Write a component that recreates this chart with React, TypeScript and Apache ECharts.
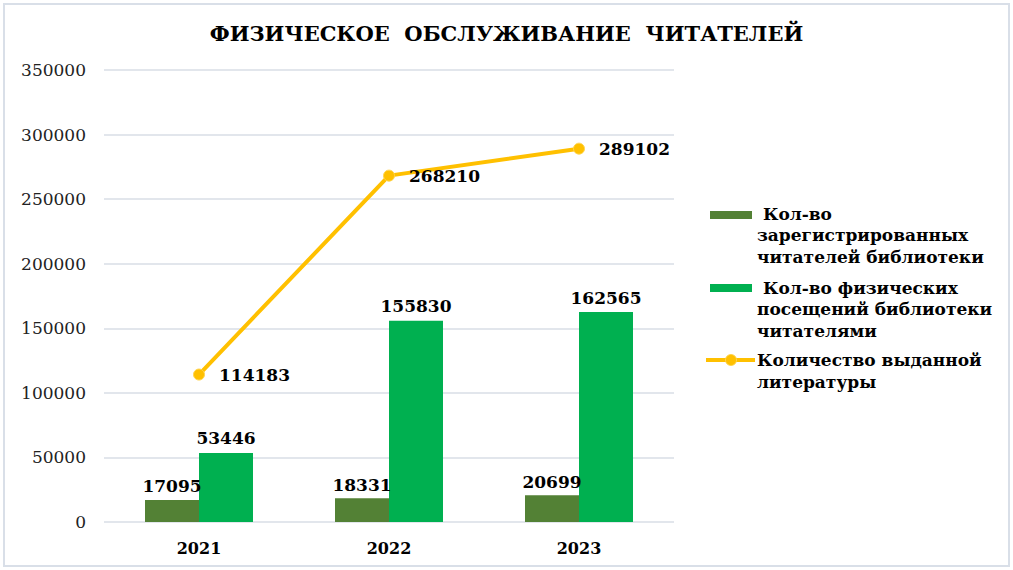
import React, { useEffect, useRef } from "react";
import * as echarts from "echarts";

const title = "ФИЗИЧЕСКОЕ  ОБСЛУЖИВАНИЕ  ЧИТАТЕЛЕЙ";
const years = ["2021", "2022", "2023"];
const registered = [17095, 18331, 20699];
const visits = [53446, 155830, 162565];
const issued = [114183, 268210, 289102];
const legendNames = [
  " Кол-во\nзарегистрированных\nчитателей библиотеки",
  " Кол-во физических\nпосещений библиотеки\nчитателями",
  "Количество выданной\nлитературы",
];
const seriesNames = [
  "Кол-во зарегистрированных читателей библиотеки",
  "Кол-во физических посещений библиотеки читателями",
  "Количество выданной литературы",
];

const FONT = "'DejaVu Serif', 'Liberation Serif', serif";
const C1 = "#538135";
const C2 = "#00B050";
const C3 = "#FFC000";

export default function App() {
  const ref = useRef<HTMLDivElement>(null);
  useEffect(() => {
    if (!ref.current) return;
    const chart = echarts.init(ref.current, null, { renderer: "svg" });
    const labelStyle = {
      show: true,
      fontFamily: FONT,
      fontWeight: "bold" as const,
      fontSize: 17,
      color: "#000",
    };
    chart.setOption({
      animation: false,
      backgroundColor: "#fff",
      title: {
        text: title,
        left: "center",
        top: 18,
        textStyle: { fontFamily: FONT, fontWeight: "bold", fontSize: 21, color: "#000" },
      },
      grid: { left: 104, right: 339, top: 70, bottom: 48, containLabel: false },
      xAxis: {
        type: "category",
        data: years,
        axisLine: { show: false },
        axisTick: { show: false },
        axisLabel: { fontFamily: FONT, fontWeight: "bold", fontSize: 16, color: "#000", margin: 18 },
      },
      yAxis: {
        type: "value",
        min: 0,
        max: 350000,
        interval: 50000,
        axisLine: { show: false },
        axisTick: { show: false },
        splitLine: { lineStyle: { color: "#d9dee6", width: 1.5 } },
        axisLabel: {
          fontFamily: FONT,
          fontSize: 17,
          color: "#222",
          margin: 18,
          formatter: (v: number) => String(v),
        },
      },
      series: [
        {
          name: seriesNames[0],
          type: "bar",
          data: registered,
          barWidth: 54,
          barGap: "0%",
          itemStyle: { color: C1 },
          label: { ...labelStyle, position: "top", distance: 5 },
        },
        {
          name: seriesNames[1],
          type: "bar",
          data: visits,
          barWidth: 54,
          barGap: "0%",
          itemStyle: { color: C2 },
          label: { ...labelStyle, position: "top", distance: 6 },
        },
        {
          name: seriesNames[2],
          type: "line",
          data: issued,
          symbol: "circle",
          symbolSize: 11,
          itemStyle: { color: C3, borderColor: "#ffd54d", borderWidth: 1 },
          lineStyle: { color: C3, width: 4 },
          label: { ...labelStyle, position: "right", distance: 14 },
          z: 5,
        },
      ],
      graphic: [
        {
          type: "rect",
          shape: { x: 4, y: 4, width: 1005, height: 562 },
          style: { fill: "none", stroke: "#d9dfe8", lineWidth: 2 },
          silent: true,
        },
        { type: "rect", shape: { x: 710, y: 211, width: 42, height: 8 }, style: { fill: C1 } },
        {
          type: "text",
          x: 757,
          y: 203,
          style: {
            text: legendNames[0],
            font: `bold 17px ${FONT}`,
            fill: "#000",
            lineHeight: 21.5,
            verticalAlign: "top",
          },
        },
        { type: "rect", shape: { x: 710, y: 284, width: 42, height: 8 }, style: { fill: C2 } },
        {
          type: "text",
          x: 757,
          y: 277,
          style: {
            text: legendNames[1],
            font: `bold 17px ${FONT}`,
            fill: "#000",
            lineHeight: 21.5,
            verticalAlign: "top",
          },
        },
        {
          type: "line",
          shape: { x1: 706, y1: 360, x2: 755, y2: 360 },
          style: { stroke: C3, lineWidth: 4 },
        },
        {
          type: "circle",
          shape: { cx: 731, cy: 360, r: 5.5 },
          style: { fill: C3, stroke: "#ffd54d", lineWidth: 1 },
        },
        {
          type: "text",
          x: 757,
          y: 349,
          style: {
            text: legendNames[2],
            font: `bold 17px ${FONT}`,
            fill: "#000",
            lineHeight: 22,
            verticalAlign: "top",
          },
        },
      ],
    });
    return () => chart.dispose();
  }, []);
  return (
    <div
      ref={ref}
      style={{ position: "fixed", left: 0, top: 0, width: 1013, height: 570 }}
    />
  );
}
